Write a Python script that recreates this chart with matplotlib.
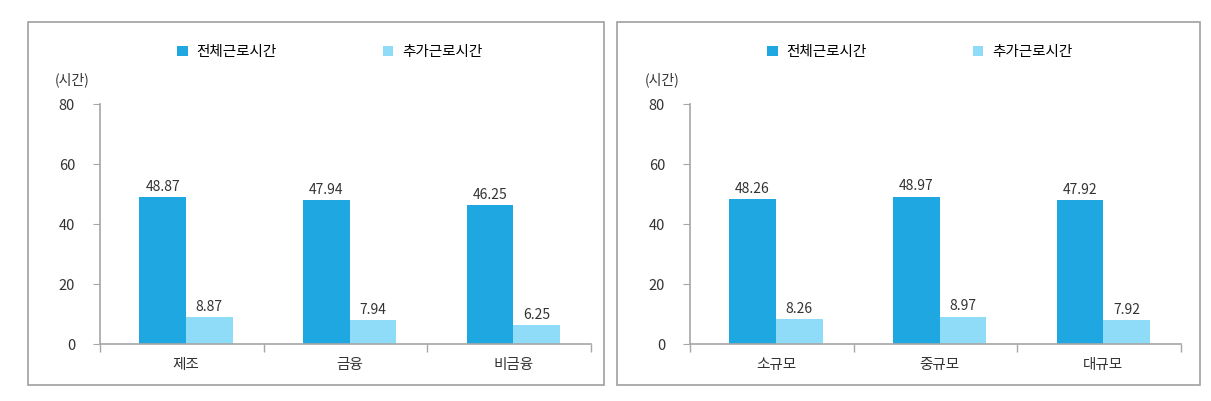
import matplotlib.pyplot as plt
from matplotlib.patches import Rectangle
import numpy as np

plt.rcParams['font.family'] = ['Noto Sans CJK KR', 'DejaVu Sans']

# data
industry = ['제조', '금융', '비금융']
industry_total = [48.87, 47.94, 46.25]
industry_extra = [8.87, 7.94, 6.25]

size = ['소규모', '중규모', '대규모']
size_total = [48.26, 48.97, 47.92]
size_extra = [8.26, 8.97, 7.92]

series_names = ['전체근로시간', '추가근로시간']
yticks = [0, 20, 40, 60, 80]

dark = '#1ea7e1'
light = '#8fdcf8'
axis_gray = '#a6a6a6'
text_col = '#333333'

fig = plt.figure(figsize=(12.11, 4.01), dpi=100)

# panel frames
for x0, x1 in [(28, 604), (617, 1200)]:
    fig.patches.append(Rectangle((x0 / 1211, 1 - 385 / 401), (x1 - x0) / 1211, (385 - 22) / 401,
                                 transform=fig.transFigure, fill=False,
                                 edgecolor='#a0a0a0', linewidth=1.2))

panels = [
    (100, industry, industry_total, industry_extra),
    (690, size, size_total, size_extra),
]

w = 0.285
off = 0.025
for px, cats, tot, ext in panels:
    ax = fig.add_axes([px / 1211, 1 - 344 / 401, 491 / 1211, 240 / 401])
    x = np.arange(len(cats))
    b1 = ax.bar(x - w / 2 + off, tot, w, color=dark, label=series_names[0])
    b2 = ax.bar(x + w / 2 + off, ext, w, color=light, label=series_names[1])
    for rects, vals in [(b1, tot), (b2, ext)]:
        for r, v in zip(rects, vals):
            ax.text(r.get_x() + r.get_width() / 2, v + 1.2, f'{v:.2f}',
                    ha='center', va='bottom', fontsize=10, color=text_col)
    ax.set_xlim(-0.5, 2.5)
    ax.set_ylim(0, 80)
    ax.set_yticks(yticks)
    ax.set_xticks(x + off)
    ax.set_xticklabels(cats, fontsize=10.5, color=text_col)
    ax.set_xticks([-0.5, 0.5, 1.5, 2.5], minor=True)
    ax.tick_params(axis='x', which='major', length=0, pad=10)
    ax.tick_params(axis='x', which='minor', length=6, color=axis_gray, width=1)
    ax.tick_params(axis='y', length=5, color=axis_gray, labelsize=10.5,
                   labelcolor=text_col, pad=13)
    for s in ['top', 'right']:
        ax.spines[s].set_visible(False)
    for s in ['left', 'bottom']:
        ax.spines[s].set_color(axis_gray)
        ax.spines[s].set_linewidth(1.2)
    ax.text(-0.092, 1.07, '(시간)', transform=ax.transAxes, fontsize=10,
            color=text_col, ha='left', va='bottom')
    ax.legend(loc='center', bbox_to_anchor=(0.468, 1.215), ncol=2, frameon=False,
              handlelength=0.7, handleheight=0.7, handletextpad=0.6,
              columnspacing=7.3, fontsize=10.5)

plt.savefig('out.png', dpi=100)
